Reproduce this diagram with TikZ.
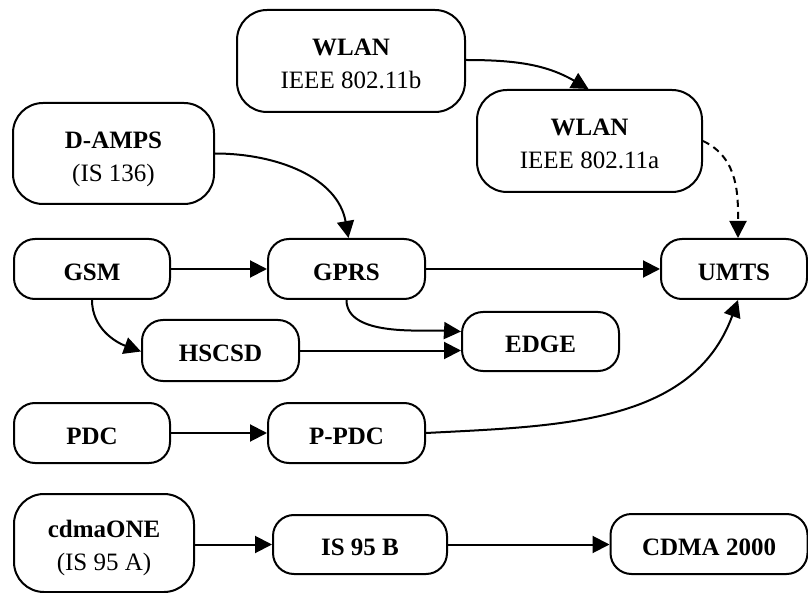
\documentclass[tikz,border=0pt]{standalone}
\usepackage{fontspec}
\setmainfont{Liberation Serif}
\usetikzlibrary{arrows.meta,calc}

% node text: one or more centred lines, set a little below the box centre
\newcommand{\boxtext}[1]{\raisebox{-4.5pt}[\height][\depth]{\begin{tabular}{@{}c@{}}#1\end{tabular}}}

\tikzset{
  tech/.style={draw, line width=2pt, rounded corners=#1, inner sep=0pt,
    font=\fontsize{25}{33}\selectfont},
  tech/.default=21pt,
  link/.style={line width=2pt, -{Triangle[length=17pt,width=17pt]}},
}

\begin{document}
\begin{tikzpicture}[x=1pt,y=-1pt]
\useasboundingbox (0,0) rectangle (808,593);

% wireless LAN generations
\node[tech=30pt, minimum width=228pt, minimum height=102pt] (wb) at (351,61)
  {\boxtext{\textbf{WLAN}\\IEEE 802.11b}};
\node[tech=30pt, minimum width=225pt, minimum height=102pt] (wa) at (589.5,141)
  {\boxtext{\textbf{WLAN}\\IEEE 802.11a}};

% second and third generation cellular systems
\node[tech=30pt, minimum width=201pt, minimum height=101pt] (damps) at (113.5,153.5)
  {\boxtext{\textbf{D-AMPS}\\(IS 136)}};
\node[tech, minimum width=156pt, minimum height=60pt] (gsm) at (92,269) {\boxtext{\textbf{GSM}}};
\node[tech, minimum width=157pt, minimum height=60pt] (gprs) at (346.5,269) {\boxtext{\textbf{GPRS}}};
\node[tech, minimum width=146pt, minimum height=60pt] (umts) at (734,269) {\boxtext{\textbf{UMTS}}};
\node[tech, minimum width=157pt, minimum height=61pt] (hscsd) at (220.5,350.5) {\boxtext{\textbf{HSCSD}}};
\node[tech, minimum width=157pt, minimum height=59pt] (edge) at (540.5,341.5) {\boxtext{\textbf{EDGE}}};
\node[tech, minimum width=156pt, minimum height=60pt] (pdc) at (92,433) {\boxtext{\textbf{PDC}}};
\node[tech, minimum width=157pt, minimum height=60pt] (ppdc) at (346.5,433) {\boxtext{\textbf{P-PDC}}};
\node[tech=30pt, minimum width=180pt, minimum height=98pt] (cdma) at (104,543)
  {\boxtext{\textbf{cdmaONE}\\(IS 95 A)}};
\node[tech, minimum width=174pt, minimum height=59pt] (isb) at (360,544.5) {\boxtext{\textbf{IS 95 B}}};
\node[tech, minimum width=197pt, minimum height=60pt] (c2k) at (709,544) {\boxtext{\textbf{CDMA 2000}}};

% evolution paths
\draw[link] ($(wb.east)+(0,-1)$) to[out=0, in=150] ($(wa.north)+(-1,0)$);
\draw[link] (damps.east) to[out=0, in=100] ($(gprs.north)+(2,0)$);
\draw[link] (gsm) -- (gprs);
\draw[link] (gprs) -- (umts);
\draw[link, dash pattern=on 7pt off 5pt] (wa.east) to[out=-25, in=90] ($(umts.north)+(4,0)$);
\draw[link] (gsm.south) to[out=-90, in=160] ($(hscsd.west)+(0,1)$);
\draw[link] (gprs.south) to[out=-90, in=177, looseness=0.8] ($(edge.west)+(0,-10)$);
\draw[link] (hscsd.east) -- (hscsd.east -| edge.west);
\draw[link] (pdc) -- (ppdc);
\draw[link] (ppdc.east) to[out=3, in=-110] ($(umts.south)+(4,0)$);
\draw[link] (cdma.east |- isb.west) -- (isb.west);
\draw[link] (isb.east) -- (isb.east -| c2k.west);
\end{tikzpicture}
\end{document}
